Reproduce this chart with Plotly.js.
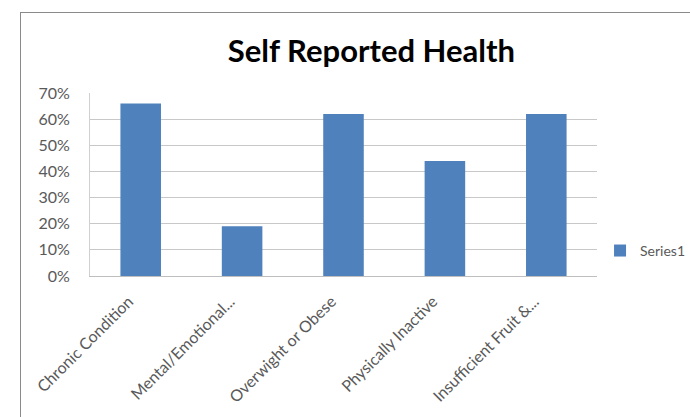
<!DOCTYPE html>
<html><head><meta charset="utf-8">
<script src="https://cdn.plot.ly/plotly-3.0.1.min.js"></script>
<style>
html,body{margin:0;padding:0;background:#fff;overflow:hidden;width:690px;height:417px}
#wrap{position:absolute;left:20px;top:12px;width:720px;height:440px;border:1px solid #8a8a8a;background:#fff}
#chart{position:absolute;left:0;top:0;width:670px;height:405px}
</style></head>
<body>
<div id="wrap"><div id="chart"></div></div>
<script>
var categories = ["Chronic Condition","Mental/Emotional...","Overwight or Obese","Physically Inactive","Insufficient Fruit &..."];
var values = [0.66, 0.19, 0.62, 0.44, 0.62];
var seriesName = "Series1";
var yTickVals = [0,0.1,0.2,0.3,0.4,0.5,0.6,0.7];
var yTickText = ["0%","10%","20%","30%","40%","50%","60%","70%"];

var trace = {
  type:'bar', x:categories, y:values, name:seriesName,
  marker:{color:'#4f81bd', line:{width:0}}, width:0.4,
  showlegend:true, hoverinfo:'none'
};
var layout = {
  width:670, height:405,
  margin:{l:69, r:94, t:80, b:142, pad:0, autoexpand:false},
  paper_bgcolor:'#fff', plot_bgcolor:'#fff',
  font:{family:'Lato, sans-serif', color:'#595959', size:16},
  title:{text:'<b>Self Reported Health</b>', x:0.523, xanchor:'center', y:0.907, yanchor:'middle',
         font:{family:'Lato, sans-serif', size:31, color:'#000'}},
  xaxis:{type:'category', tickangle:-45, showgrid:false, showline:true, linecolor:'#bfbfbf', linewidth:1,
         ticks:'', ticklabelshift:-12, ticklabelstandoff:9, tickfont:{size:16, color:'#595959'}, fixedrange:true, automargin:false},
  yaxis:{range:[0,0.7], tickvals:yTickVals, ticktext:yTickText, showgrid:true, gridcolor:'#c8c8c8', gridwidth:1,
         zeroline:false, showline:true, linecolor:'#d0d0d0', linewidth:1, ticks:'', ticklabelstandoff:16,
         tickfont:{size:16, color:'#595959'}, fixedrange:true, automargin:false},
  showlegend:true,
  legend:{x:1.006, xanchor:'left', y:0.137, yanchor:'middle', font:{size:14, color:'#595959'}, bgcolor:'rgba(0,0,0,0)', itemwidth:30},
  bargap:0.6
};
Plotly.newPlot('chart',[trace],layout,{displayModeBar:false, staticPlot:true});
</script>
</body></html>
